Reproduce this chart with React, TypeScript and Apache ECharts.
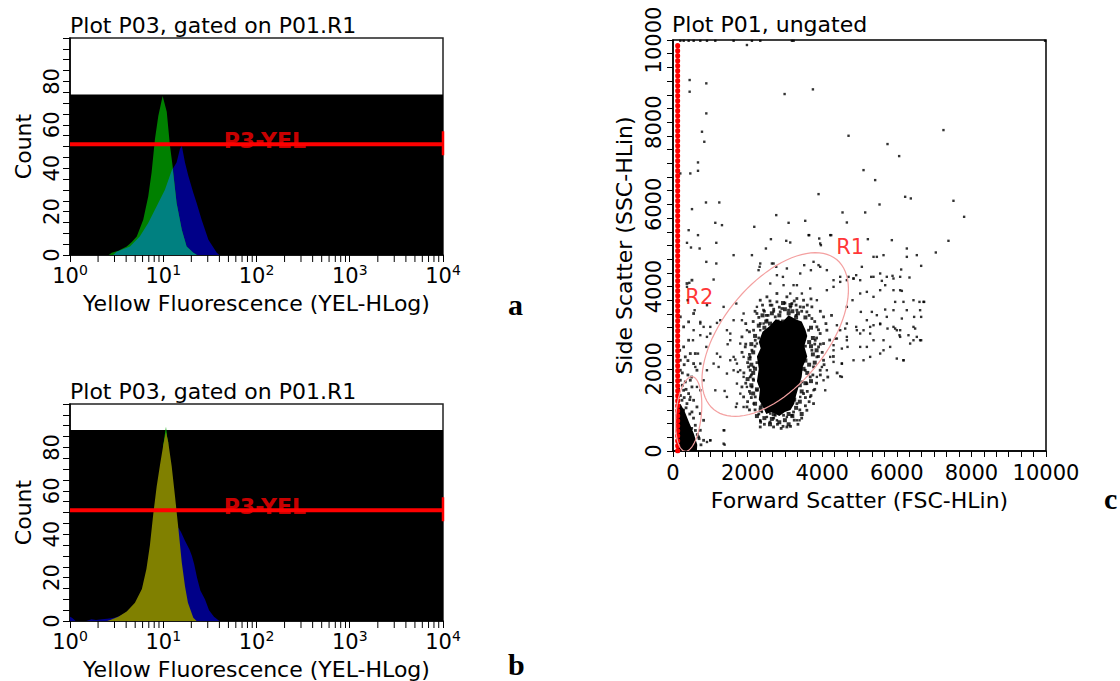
import React, { useEffect, useRef } from "react";
import * as echarts from "echarts";

const FF = '"DejaVu Sans", Verdana, sans-serif';

// ---------- Panel a (histogram overlay) ----------
const greenA_x = [2.6, 2.8, 3.3, 4.06, 4.6, 5.2, 6.1, 6.9, 7.5, 8.15, 8.85, 9.85, 10.9, 11.8, 12.6, 13.9, 15.8, 17.8, 21, 23];
const greenA_y = [0, 1, 2, 3.9, 6, 8.5, 16.3, 27, 38, 53.5, 64, 73.3, 66, 50.4, 41, 24, 11.6, 3.9, 1, 0];
const blueA_x = [2.9, 3.17, 4.4, 5.6, 6.9, 8.5, 10.4, 12.3, 13.9, 15.1, 15.8, 17.1, 18.6, 21, 22.8, 25.8, 30.5, 37.5, 40];
const blueA_y = [0, 1.5, 3.9, 8.5, 14.7, 22.5, 30, 38.8, 42.6, 48.8, 50.4, 42.6, 36.4, 28.7, 24, 16.3, 7, 1, 0];
const tealA_x = [2.9, 3.17, 4.4, 5.6, 6.9, 8.5, 10.4, 12.3, 12.6, 13.9, 15.8, 17.8, 21, 23];
const tealA_y = [0, 1.5, 3.9, 8.5, 14.7, 22.5, 30, 38.8, 40, 24, 11.6, 3.9, 1, 0];
const bgTopA = 74;

// ---------- Panel b ----------
const oliveB_x = [2.5, 2.7, 3.3, 4.06, 4.97, 5.9, 6.6, 7.2, 7.8, 8.5, 9.2, 10, 10.7, 11.3, 12.3, 13.4, 14.5, 15.8, 17.1, 18.4, 21, 22.8];
const oliveB_y = [0, 0.5, 2, 4.4, 8.4, 14.7, 24, 35, 49, 62, 71.5, 81, 87, 82.5, 71.5, 57, 43, 27, 16, 8.4, 1.5, 0];
const greenB_x = [10, 10.4, 10.7, 11.0, 11.3];
const greenB_y = [81, 86, 89.5, 85, 82.5];
const blueB_x = [1.0, 1.05, 1.15, 1.5, 1.7, 1.9, 2.2, 2.5, 3.0, 3.5, 4.0, 5.0, 6.0, 7.0, 8.0, 9.0, 10, 12, 13.5, 14.5, 15.5, 17.1, 19.1, 20.3, 21.5, 23, 25, 28, 31, 35, 40];
const blueB_y = [2, 1.5, 0, 0, 0.8, 0.5, 0.8, 1, 1.5, 2.5, 4, 8, 13, 19, 25, 30, 34, 40, 43, 43, 41, 37, 33, 30, 26, 20, 14, 10, 5, 2, 0];
const bgTopB = 88;

// marker gate P3-YEL
const markerLevel = 51;
const markerRange = [1, 10000];
const markerEnd = [46, 57];
const markerLabelX = 123;

const logMinorTicks = [2, 3, 4, 5, 6, 7, 8, 9, 20, 30, 40, 50, 60, 70, 80, 90, 200, 300, 400, 500, 600, 700, 800, 900, 2000, 3000, 4000, 5000, 6000, 7000, 8000, 9000];

// ---------- Panel c (scatter) ----------
const sparseEvents = [
  [196, 9980], [286, 9980], [420, 9980], [554, 9980], [732, 9980], [911, 9980], [1134, 9980], [1625, 9980], [2116, 9980], [2340, 9980], [3188, 9980], [3233, 9980], [9975, 9980], [1982, 9878],
  [446, 9026], [446, 8742], [893, 8945], [2992, 8685], [3751, 8799], [893, 8214], [777, 7768], [839, 7524], [670, 7021], [670, 6818], [196, 6753], [464, 6753],
  [4706, 7670], [7251, 7808], [5751, 7468], [6063, 7175], [5108, 6834], [5420, 6591], [3902, 6250], [6224, 6185], [6376, 6145], [7519, 6088], [7805, 5698],
  [884, 6047], [1241, 6047], [509, 5885], [5537, 5998], [4545, 5804], [5153, 5804], [2768, 5739], [3099, 5552], [3545, 5601], [4661, 5560], [2179, 5455], [1134, 5552], [1313, 5495], [420, 5373], [670, 5252],
  [1161, 5065], [2625, 5154], [3036, 5114], [3143, 5073], [3652, 5252], [3920, 5170], [3965, 5008], [4242, 5252], [5224, 5154], [5867, 5130], [6269, 4927], [7046, 4830], [7385, 5114], [375, 5065], [482, 4951], [714, 4927], [1625, 4765], [2116, 4765], [2491, 4927],
  [5376, 4724], [5465, 4724], [5644, 4765], [6269, 4724], [6537, 4765], [6653, 4505], [893, 4602], [1161, 4562], [2322, 4481], [2652, 4562], [2768, 4481], [3518, 4521], [3697, 4399], [3947, 4481], [4911, 4278], [5063, 4481], [6117, 4416], [6340, 4221], [5885, 4262], [5313, 4237],
  [437, 4091], [1089, 4172], [375, 3994], [2947, 4237], [3322, 4034], [4304, 3994], [4483, 4115], [4706, 4237], [4840, 4196], [5599, 4140], [5689, 4034], [6090, 3912], [6135, 3896],
  [393, 3669], [911, 3547], [1697, 3588], [5956, 3628], [6608, 3628], [6733, 3628], [4661, 3507], [4813, 3669], [5036, 3385], [5331, 3385], [5688, 3442], [6135, 3223], [6465, 3263], [6653, 3263],
  [580, 3425], [1357, 3507], [732, 3141], [1179, 3117], [4394, 3060], [4617, 2979], [4911, 3020], [5108, 2938], [5286, 2857], [5376, 3060], [5554, 3084], [5751, 2979], [5956, 2979], [6001, 2938], [6313, 2817], [6492, 2979], [6653, 2695], [6447, 2695], [6358, 2614], [6072, 2817], [5644, 2695], [5197, 2533], [4679, 2533], [4304, 2451], [4349, 2735], [4840, 2208], [5108, 2208], [4528, 2127], [5644, 2451], [6180, 2208], [4483, 1818], [3992, 2045], [4081, 1477], [3393, 747], [2340, 730], [1384, 1461], [1134, 1477], [1670, 2224], [1625, 1964], [1741, 1924], [1223, 2045], [1465, 2597], [1688, 1071], [1893, 1071], [911, 219], [1000, 260], [1384, 154], [1375, 503], [1804, 1396], [1536, 2857], [1848, 3182], [1179, 2370], [732, 2817], [821, 3020], [1000, 2857], [893, 2533], [536, 2695], [670, 2370], [598, 2045], [732, 2127],
];

const fringeEvents = [
  [2339, 4562], [2696, 4562], [2294, 4400], [2786, 4278], [3053, 4441], [3411, 4319], [3768, 4603], [3946, 5049], [3634, 5252], [4214, 5252], [3902, 4522], [4125, 4400], [3232, 4035], [2964, 4035], [2607, 4075], [3143, 3832], [3455, 3832], [3679, 3954], [3857, 3669], [4125, 3913], [4304, 4156], [4482, 4238], [4661, 4156], [4839, 4197], [5018, 4156], [5375, 4238], [5554, 4319], [5732, 4238], [5911, 4197], [6090, 4238],
  [5018, 3832], [5197, 3872], [5375, 3751], [5554, 3913], [5911, 3913], [6179, 3629], [6447, 3669], [6715, 3629], [6625, 3426], [6268, 3426], [5911, 3426], [5732, 3264], [5465, 3304], [5197, 3182], [4929, 2939], [4661, 3101], [4482, 2939], [5018, 2858], [5286, 3020], [5554, 3101], [5911, 3020], [6090, 2939], [6447, 3020], [6536, 2777], [6625, 2695], [6090, 2777], [5822, 2533], [5375, 2695], [4661, 2777], [4393, 2736], [4304, 2574], [4527, 2492], [4214, 2290], [4527, 2127], [4304, 2168], [4661, 2695], [5018, 2533], [5286, 2290], [5554, 2371], [6000, 2249], [6179, 2208],
  [4527, 1803], [4125, 1965], [4036, 1721], [3857, 1803], [3768, 1478], [3679, 1316], [3411, 1316], [3321, 747], [3053, 828], [2786, 747], [2518, 828], [2339, 747], [2384, 950], [2607, 910], [2160, 1153], [2071, 1397], [1982, 1559], [1893, 1803], [1803, 1965], [2160, 2046], [2071, 2290], [1893, 2290], [1714, 2127], [1625, 2290], [1535, 2208], [1714, 1640], [1714, 1153], [1446, 1316], [1357, 504], [1000, 260], [1357, 179], [1446, 1884], [1267, 2290], [1089, 2127], [910, 1965], [732, 1478], [821, 1721], [642, 1559], [464, 1316], [553, 2939], [732, 3101], [910, 2777], [1000, 3020], [1267, 3182], [1446, 2939], [1535, 2695], [1893, 3345], [2250, 3507], [2428, 3101], [1982, 2939], [1625, 3182], [1803, 2614], [2250, 2614], [2339, 2939],
];

const clusterEdgeEvents = [
  [2250, 3345], [2428, 3426], [2607, 3548], [2786, 3629], [2919, 3467], [3187, 3588], [3321, 3426], [3589, 3385], [3723, 3223], [3857, 3020], [3946, 2858], [3902, 2533], [3857, 2290], [3768, 2046], [3679, 1803], [3589, 1640], [3500, 1397], [3321, 1153], [3232, 950], [2964, 869], [2741, 869], [2518, 991], [2339, 1072], [2205, 1316], [2116, 1559], [2071, 1803], [2026, 2046], [2116, 2452], [2205, 2695], [2160, 2939], [2339, 3101], [2518, 3182], [2741, 3264], [2875, 3385], [3411, 3507], [3634, 2939], [3723, 2452], [2339, 1640], [2250, 1478], [2473, 1153], [3545, 1965], [3455, 1681], [3187, 869], [2830, 950], [2652, 3548], [3098, 3426], [3812, 2695], [2071, 1965], [2160, 1721], [3053, 3751], [2786, 3832], [2518, 3751], [2339, 3669], [3321, 3710], [3500, 3669], [3723, 3507], [4036, 3264], [4125, 2939], [4036, 2614], [4036, 2208], [3946, 1965], [3768, 1153], [3589, 991], [2339, 585], [2696, 585], [3053, 585], [1982, 1072], [1893, 1316], [1848, 1559], [1937, 2533], [1848, 2777],
];

const clusterHaloEvents = [
  [2000, 1200], [2050, 1450], [1950, 1650], [2000, 2150], [2050, 2350], [1950, 2600], [2050, 2900], [2150, 3150], [2300, 3250], [2450, 3400], [2550, 3300], [2700, 3450], [2850, 3500], [3000, 3600], [3150, 3500], [3300, 3550], [3450, 3400], [3600, 3550], [3650, 3300], [3800, 3150], [3900, 2950], [3850, 2750], [3950, 2600], [4000, 2400], [3900, 2300], [4050, 2100], [3950, 1850], [3850, 1650], [3800, 1500], [3700, 1350], [3650, 1200], [3550, 1100], [3450, 800], [3350, 650], [3250, 750], [3150, 600], [2950, 600], [2800, 650], [2600, 700], [2450, 650], [2300, 900], [2200, 1000], [2100, 1300], [2150, 1750], [2100, 1850], [2250, 2150], [2200, 2550], [2300, 2750], [2500, 3300], [3250, 3650], [3500, 3500], [3800, 2600], [3750, 1850], [3600, 1450], [3400, 1000], [2900, 550], [2700, 800], [2350, 700], [2050, 1000], [1900, 1900], [1850, 2400], [4200, 2700], [4300, 2300], [4150, 1800], [4400, 1900], [4100, 3100], [4250, 3300], [3950, 3400], [3700, 3700], [2600, 3650], [2400, 3550], [2200, 3400], [1950, 3100], [3550, 2550], [3300, 3300], [2700, 3400], [3550, 1300],
];

// heavier dots hugging the dense core
const coreRimEvents = [
  [2300, 3050], [2500, 3150], [2650, 3350], [2850, 3300], [3000, 3450], [3200, 3400], [3350, 3350], [3550, 3250], [3700, 3000], [3750, 2750], [3700, 2550], [3750, 2350], [3650, 2100], [3600, 1900], [3550, 1650], [3450, 1450], [3400, 1200], [3300, 1050], [3200, 850], [3000, 750], [2850, 700], [2650, 780], [2450, 800], [2350, 1000], [2200, 1150], [2150, 1400], [2100, 1600], [2150, 1900], [2100, 2100], [2150, 2400], [2100, 2600], [2200, 2800], [2450, 3000], [2950, 3150], [3300, 3250], [3650, 2650], [3500, 2000], [3400, 1600], [2200, 2000], [2250, 1500], [2400, 1100], [2700, 900], [3100, 900], [3250, 1250], [3550, 2200], [3100, 3350], [2800, 3150], [2600, 3100],
  [2400, 3300], [2050, 2250], [2000, 1750], [3850, 2450], [3800, 2150], [3700, 1700], [3150, 3550], [2950, 3600], [2600, 650], [3100, 650], [3450, 900], [2250, 850],
];

const debrisEvents = [
  [196, 1722], [330, 1681], [464, 1722], [285, 1478], [419, 1397], [508, 1559], [240, 1234], [374, 1153], [553, 1234], [642, 1072], [508, 950], [285, 991], [196, 2208], [330, 2290], [464, 2371], [285, 2533], [553, 2127], [642, 1965], [151, 2939], [285, 3020], [419, 3142], [196, 3264], [553, 3345], [374, 4075], [508, 4156], [598, 626], [732, 504], [687, 341], [821, 260], [821, 747], [196, 1965], [732, 910], [598, 2371], [419, 2695],
  [150, 1500], [250, 1600], [350, 1500], [450, 1250], [200, 1350], [300, 1300], [150, 1100], [250, 1000], [350, 1050], [450, 900], [550, 800], [600, 500], [500, 550], [700, 300], [750, 150], [650, 400], [250, 1900], [400, 1850], [300, 2100], [180, 2450], [400, 2200], [500, 1800],
];

// dense cores (solid black areas)
const clusterCore = [[2400, 2900], [2600, 3050], [2750, 3200], [2950, 3150], [3100, 3300], [3300, 3200], [3450, 3150], [3550, 2950], [3600, 2800], [3520, 2550], [3600, 2300], [3480, 2050], [3450, 1800], [3380, 1600], [3300, 1350], [3250, 1150], [3150, 1000], [3000, 950], [2850, 850], [2650, 950], [2500, 900], [2400, 1100], [2300, 1250], [2330, 1500], [2250, 1700], [2300, 2000], [2250, 2300], [2350, 2500], [2300, 2650]];
const debrisCore = [[100, 0], [100, 1000], [200, 1150], [320, 950], [430, 700], [560, 420], [650, 150], [640, 0]];

// red column of events at the FSC low edge
const redColumnX = 125;
const redColumnY = [0, 9960];

// gates: center and two conjugate semi-axes, data units
const gateR1 = { c: [2740, 2834], u: [1647, 1824], v: [1069, -799] };
const gateR2 = { c: [420, 900], u: [40, 900], v: [350, 120] };
const gateLabels = [
  { name: "R1", value: [4751, 4968] },
  { name: "R2", value: [705, 3750] },
];

const pairs = (xs: number[], ys: number[]) => xs.map((x, i) => [x, ys[i]]);

function areaSeries(xi: number, data: number[][], color: string, z: number) {
  return {
    type: "line",
    xAxisIndex: xi,
    yAxisIndex: xi,
    data,
    symbol: "none",
    smooth: false,
    lineStyle: { width: 0, color },
    areaStyle: { color, opacity: 1 },
    z,
    silent: true,
  };
}

function histXAxis(gi: number) {
  return {
    type: "log",
    logBase: 10,
    gridIndex: gi,
    min: 1,
    max: 10000,
    axisLine: { show: true, onZero: false, lineStyle: { color: "#000", width: 1.5 } },
    axisTick: { show: true, length: 7, lineStyle: { color: "#000" } },
    splitLine: { show: false },
    axisLabel: {
      margin: 8,
      formatter: (v: number) => `{b|10}{s|${Math.round(Math.log10(v))}}`,
      rich: {
        b: { fontSize: 21, fontFamily: FF, color: "#000" },
        s: { fontSize: 14, fontFamily: FF, color: "#000", padding: [0, 0, 12, 0] },
      },
    },
    name: "Yellow Fluorescence (YEL-HLog)",
    nameLocation: "middle",
    nameGap: 37,
    nameTextStyle: { fontSize: 22, fontFamily: FF, color: "#000" },
  };
}

function histYAxis(gi: number) {
  return {
    type: "value",
    gridIndex: gi,
    min: 0,
    max: 100,
    interval: 20,
    axisLine: { show: true, onZero: false, lineStyle: { color: "#000", width: 1.5 } },
    axisTick: { show: true, length: 7, lineStyle: { color: "#000" } },
    minorTick: { show: true, splitNumber: 4, length: 7, lineStyle: { color: "#000" } },
    splitLine: { show: false },
    minorSplitLine: { show: false },
    axisLabel: { rotate: 90, margin: 8, fontSize: 21, fontFamily: FF, color: "#000", showMaxLabel: false },
    name: "Count",
    nameLocation: "middle",
    nameGap: 36,
    nameTextStyle: { fontSize: 22, fontFamily: FF, color: "#000" },
  };
}

function markerSeries(xi: number) {
  return [
    {
      type: "line",
      xAxisIndex: xi,
      yAxisIndex: xi,
      data: markerRange.map((x) => [x, markerLevel]),
      symbol: "none",
      lineStyle: { color: "#ff0000", width: 4 },
      z: 8,
      silent: true,
    },
    {
      type: "line",
      xAxisIndex: xi,
      yAxisIndex: xi,
      data: markerEnd.map((y) => [markerRange[1], y]),
      symbol: "none",
      lineStyle: { color: "#ff0000", width: 2.5 },
      z: 8,
      silent: true,
    },
    {
      type: "scatter",
      xAxisIndex: xi,
      yAxisIndex: xi,
      symbolSize: 0,
      data: [{ name: "P3-YEL", value: [markerLabelX, markerLevel] }],
      label: {
        show: true,
        position: "inside",
        formatter: "{b}",
        offset: [0, -4],
        fontSize: 22,
        fontWeight: "bold",
        fontFamily: FF,
        color: "#ff0000",
      },
      z: 9,
      silent: true,
    },
    {
      type: "custom",
      xAxisIndex: xi,
      yAxisIndex: xi,
      data: logMinorTicks.map((v) => [v, 0]),
      clip: false,
      silent: true,
      z: 10,
      renderItem: (_p: any, api: any) => {
        const p = api.coord([api.value(0), 0]);
        return {
          type: "line",
          shape: { x1: p[0], y1: p[1], x2: p[0], y2: p[1] + 7 },
          style: { stroke: "#000", lineWidth: 1 },
        };
      },
    },
  ];
}

function gateSeries(g: { c: number[]; u: number[]; v: number[] }) {
  return {
    type: "custom",
    xAxisIndex: 2,
    yAxisIndex: 2,
    data: [[g.c[0], g.c[1]]],
    clip: true,
    silent: true,
    z: 7,
    renderItem: (_p: any, api: any) => {
      const pts: number[][] = [];
      for (let i = 0; i <= 90; i++) {
        const t = (i / 90) * Math.PI * 2;
        pts.push(
          api.coord([
            g.c[0] + g.u[0] * Math.cos(t) + g.v[0] * Math.sin(t),
            g.c[1] + g.u[1] * Math.cos(t) + g.v[1] * Math.sin(t),
          ])
        );
      }
      return { type: "polyline", shape: { points: pts }, style: { stroke: "#f4a0a0", fill: null, lineWidth: 1.2 } };
    },
  };
}

function polySeries(poly: number[][]) {
  return {
    type: "custom",
    xAxisIndex: 2,
    yAxisIndex: 2,
    data: [poly[0]],
    clip: true,
    silent: true,
    z: 3,
    renderItem: (_p: any, api: any) => ({
      type: "polygon",
      shape: { points: poly.map((p) => api.coord(p)) },
      style: { fill: "#000" },
    }),
  };
}

function eventsSeries(data: number[][], size = 2.4) {
  return {
    type: "scatter",
    xAxisIndex: 2,
    yAxisIndex: 2,
    data,
    symbol: "rect",
    symbolSize: size,
    itemStyle: { color: "#000" },
    z: 4,
    silent: true,
  };
}

const scatterAxisCommon = {
  min: 0,
  max: 10000,
  interval: 2000,
  axisLine: { show: true, onZero: false, lineStyle: { color: "#000", width: 1.5 } },
  axisTick: { show: true, length: 6, lineStyle: { color: "#000" } },
  minorTick: { show: true, splitNumber: 6, length: 6, lineStyle: { color: "#000" } },
  splitLine: { show: false },
  minorSplitLine: { show: false },
  nameLocation: "middle",
  nameTextStyle: { fontSize: 22, fontFamily: FF, color: "#000" },
};

const plainNumber = (v: number) => String(v);

const titles = [
  { text: "Plot P03, gated on P01.R1", x: 70, y: 25 },
  { text: "Plot P03, gated on P01.R1", x: 70, y: 391 },
  { text: "Plot P01, ungated", x: 672, y: 24 },
];
const panelLetters = [
  { text: "a", x: 508, y: 304 },
  { text: "b", x: 508, y: 664 },
  { text: "c", x: 1104, y: 498 },
];

const option: any = {
  animation: false,
  backgroundColor: "#fff",
  grid: [
    { left: 70, top: 38, width: 373, height: 217, show: true, borderColor: "#222", borderWidth: 1.5, backgroundColor: "transparent", outerBoundsMode: "none" },
    { left: 70, top: 404, width: 373, height: 217, show: true, borderColor: "#222", borderWidth: 1.5, backgroundColor: "transparent", outerBoundsMode: "none" },
    { left: 673, top: 40, width: 373, height: 411, show: true, borderColor: "#000", borderWidth: 1.5, backgroundColor: "transparent", outerBoundsMode: "none" },
  ],
  xAxis: [
    histXAxis(0),
    histXAxis(1),
    {
      ...scatterAxisCommon,
      type: "value",
      gridIndex: 2,
      axisLabel: { margin: 11, fontSize: 21, fontFamily: FF, color: "#000", formatter: plainNumber },
      name: "Forward Scatter (FSC-HLin)",
      nameGap: 38,
    },
  ],
  yAxis: [
    histYAxis(0),
    histYAxis(1),
    {
      ...scatterAxisCommon,
      type: "value",
      gridIndex: 2,
      axisLabel: { rotate: 90, margin: 9, fontSize: 21, fontFamily: FF, color: "#000", formatter: plainNumber },
      name: "Side Scatter (SSC-HLin)",
      nameGap: 38,
    },
  ],
  graphic: [
    ...titles.map((t) => ({
      type: "text",
      x: t.x,
      y: t.y,
      style: { text: t.text, fontSize: 22, fontFamily: FF, fill: "#000", verticalAlign: "middle", align: "left" },
      z: 20,
    })),
    ...panelLetters.map((t) => ({
      type: "text",
      x: t.x,
      y: t.y,
      style: { text: t.text, fontSize: 30, fontWeight: "bold", fontFamily: '"Liberation Serif", "Times New Roman", serif', fill: "#000", verticalAlign: "middle", align: "left" },
      z: 20,
    })),
  ],
  series: [
    // panel a
    areaSeries(0, [[1, bgTopA], [10000, bgTopA]], "#000000", 1),
    areaSeries(0, pairs(blueA_x, blueA_y), "#000088", 2),
    areaSeries(0, pairs(greenA_x, greenA_y), "#008000", 3),
    areaSeries(0, pairs(tealA_x, tealA_y), "#008080", 4),
    ...markerSeries(0),
    // panel b
    areaSeries(1, [[1, bgTopB], [10000, bgTopB]], "#000000", 1),
    areaSeries(1, pairs(blueB_x, blueB_y), "#000088", 2),
    areaSeries(1, pairs(greenB_x, greenB_y), "#00a000", 3),
    areaSeries(1, pairs(oliveB_x, oliveB_y), "#808000", 4),
    ...markerSeries(1),
    // panel c
    polySeries(clusterCore),
    polySeries(debrisCore),
    eventsSeries(sparseEvents),
    eventsSeries(fringeEvents),
    eventsSeries(clusterEdgeEvents, 2.8),
    eventsSeries(clusterHaloEvents, 2.8),
    eventsSeries(coreRimEvents, 4),
    eventsSeries(debrisEvents, 2.8),
    {
      type: "line",
      xAxisIndex: 2,
      yAxisIndex: 2,
      data: redColumnY.map((y) => [redColumnX, y]),
      symbol: "none",
      lineStyle: { color: "#ff0000", width: 5, type: [0.5, 4.5], cap: "round" },
      z: 6,
      silent: true,
    },
    gateSeries(gateR1),
    gateSeries(gateR2),
    {
      type: "scatter",
      xAxisIndex: 2,
      yAxisIndex: 2,
      symbolSize: 0,
      data: gateLabels,
      label: { show: true, position: "inside", formatter: "{b}", fontSize: 21, fontFamily: FF, color: "#ff0000" },
      z: 9,
      silent: true,
    },
  ],
};

export default function App() {
  const ref = useRef<HTMLDivElement>(null);
  useEffect(() => {
    if (!ref.current) return;
    const chart = echarts.init(ref.current, null, { renderer: "svg" });
    chart.setOption(option);
    return () => chart.dispose();
  }, []);
  return (
    <div
      ref={ref}
      style={{ position: "absolute", left: 0, top: 0, width: 1120, height: 681, background: "#fff" }}
    />
  );
}
